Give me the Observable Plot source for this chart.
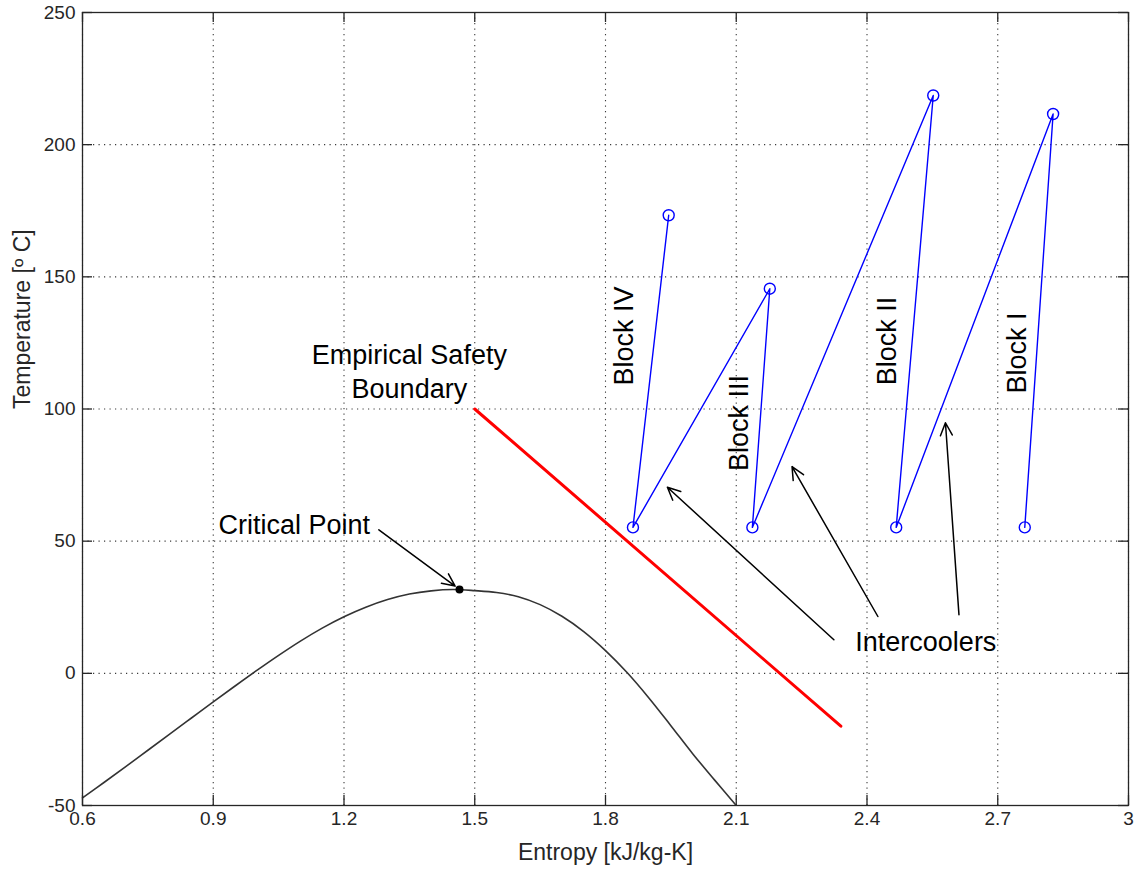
<!DOCTYPE html>
<html>
<head>
<meta charset="utf-8">
<script src="https://cdn.jsdelivr.net/npm/d3@7"></script>
<script src="https://cdn.jsdelivr.net/npm/@observablehq/plot@0.6"></script>
<style>
  html, body { margin: 0; padding: 0; background: #fff; }
  #chart svg { display: block; }
</style>
</head>
<body>
<div id="chart"></div>
<script>
// ---- Data ----
const xTicks = [0.6, 0.9, 1.2, 1.5, 1.8, 2.1, 2.4, 2.7, 3];
const yTicks = [-50, 0, 50, 100, 150, 200, 250];

// CO2 saturation dome
const satS = [0.6, 0.65, 0.7, 0.75, 0.8, 0.85, 0.9, 0.95, 1.0, 1.05, 1.1, 1.15, 1.2, 1.25, 1.3, 1.35, 1.4, 1.45,
              1.5, 1.55, 1.6, 1.65, 1.7, 1.75, 1.8, 1.85, 1.9, 1.95, 2.0, 2.05, 2.098];
const satT = [-47.1, -41.2, -35.2, -29.1, -23.0, -16.9, -10.8, -4.8, 1.1, 6.8, 12.2, 17.1, 21.4, 25.0, 27.9, 30.0, 31.2, 31.7,
              31.3, 30.6, 29.0, 26.0, 21.6, 15.8, 8.6, 0.2, -9.4, -19.8, -30.4, -40.3, -49.6];

// Compression / intercooling path (Block IV -> Block I)
const cycleS = [1.945, 1.863, 2.177, 2.137, 2.552, 2.467, 2.827, 2.762];
const cycleT = [173.3, 55.2, 145.5, 55.2, 218.6, 55.2, 211.6, 55.2];

// Empirical safety boundary
const safetyS = [1.5, 2.34];
const safetyT = [100, -20];

// Critical point
const criticalS = [1.465];
const criticalT = [31.7];

// Block labels
const blockLabels = ["Block IV", "Block III", "Block II", "Block I"];
const blockS = [1.844, 2.107, 2.447, 2.745];
const blockT = [127.6, 94.7, 125.7, 121.2];

// Annotation texts
const noteLabels = ["Empirical Safety\nBoundary", "Critical Point", "Intercoolers"];
const noteS = [1.35, 1.086, 2.535];
const noteT = [114.7, 56.9, 12.7];

// Annotation arrows (start -> end)
const arrowS1 = [1.280, 2.324, 2.425, 2.611];
const arrowT1 = [54.3, 12.7, 21.5, 22.2];
const arrowS2 = [1.455, 1.942, 2.228, 2.580];
const arrowT2 = [33.0, 70.4, 78.2, 94.8];

// Axis titles
const xTitle = "Entropy [kJ/kg-K]";
const yTitle = "Temperature [\u00ba C]";

// ---- Tables built from the arrays ----
const sat = satS.map((s, i) => ({s, t: satT[i]}));
const cycle = cycleS.map((s, i) => ({s, t: cycleT[i]}));
const safety = safetyS.map((s, i) => ({s, t: safetyT[i]}));
const critical = criticalS.map((s, i) => ({s, t: criticalT[i]}));
const blocks = blockLabels.map((label, i) => ({label, s: blockS[i], t: blockT[i]}));
const notes = noteLabels.map((label, i) => ({label, s: noteS[i], t: noteT[i]}));
const arrows = arrowS1.map((s1, i) => ({s1, t1: arrowT1[i], s2: arrowS2[i], t2: arrowT2[i]}));

// ---- Layout ----
const W = 1138, H = 869;
const mL = 82, mR = 10, mT = 12, mB = 64;
const pw = W - mL - mR, ph = H - mT - mB;
const axisColor = "#262626";
const gridStyle = {stroke: "#3a3a3a", strokeWidth: 1.1, strokeOpacity: 1, strokeDasharray: "1.2,4.3"};
const fmt = d => String(+d.toFixed(1));
const font = "'Liberation Sans', Arial, Helvetica, sans-serif";

const chart = Plot.plot({
  width: W,
  height: H,
  marginLeft: mL,
  marginRight: mR,
  marginTop: mT,
  marginBottom: mB,
  style: {fontFamily: font, background: "#fff", color: axisColor},
  x: {domain: [0.6, 3]},
  y: {domain: [-50, 250]},
  marks: [
    Plot.gridX(xTicks, gridStyle),
    Plot.gridY(yTicks, gridStyle),
    // inward ticks (bottom, top, left, right)
    Plot.tickX(xTicks, {x: d => d, stroke: axisColor, strokeWidth: 1.3, insetTop: ph - 10}),
    Plot.tickX(xTicks, {x: d => d, stroke: axisColor, strokeWidth: 1.3, insetBottom: ph - 10}),
    Plot.tickY(yTicks, {y: d => d, stroke: axisColor, strokeWidth: 1.3, insetRight: pw - 10}),
    Plot.tickY(yTicks, {y: d => d, stroke: axisColor, strokeWidth: 1.3, insetLeft: pw - 10}),
    Plot.axisX(xTicks, {tickSize: 0, tickPadding: 6, tickFormat: fmt, fontSize: 19, fill: axisColor, label: null}),
    Plot.axisY(yTicks, {tickSize: 0, tickPadding: 7, tickFormat: fmt, fontSize: 19, fill: axisColor, label: null}),
    Plot.text([xTitle], {frameAnchor: "bottom", dy: 47, lineAnchor: "middle", fontSize: 23, fill: axisColor}),
    Plot.text([yTitle], {frameAnchor: "left", dx: -60, rotate: -90, lineAnchor: "middle", fontSize: 23, fill: axisColor}),
    // saturation dome
    Plot.line(sat, {x: "s", y: "t", stroke: "#333", strokeWidth: 1.6, curve: "catmull-rom"}),
    // safety boundary
    Plot.line(safety, {x: "s", y: "t", stroke: "#ff0000", strokeWidth: 3}),
    // compression path
    Plot.line(cycle, {x: "s", y: "t", stroke: "#0000ff", strokeWidth: 1.4}),
    Plot.dot(cycle, {x: "s", y: "t", r: 5.5, stroke: "#0000ff", strokeWidth: 1.4, fill: "none"}),
    // critical point
    Plot.dot(critical, {x: "s", y: "t", r: 4, fill: "#000", stroke: "none"}),
    // annotation arrows
    Plot.arrow(arrows, {x1: "s1", y1: "t1", x2: "s2", y2: "t2", stroke: "#000", strokeWidth: 1.5, headLength: 14, headAngle: 50}),
    // texts
    Plot.text(notes, {x: "s", y: "t", text: "label", fontSize: 27, fill: "#000", lineHeight: 1.25}),
    Plot.text(blocks, {x: "s", y: "t", text: "label", fontSize: 27, fill: "#000", rotate: -90}),
    Plot.frame({stroke: axisColor, strokeWidth: 1.3})
  ]
});

document.getElementById("chart").appendChild(chart);
</script>
</body>
</html>
